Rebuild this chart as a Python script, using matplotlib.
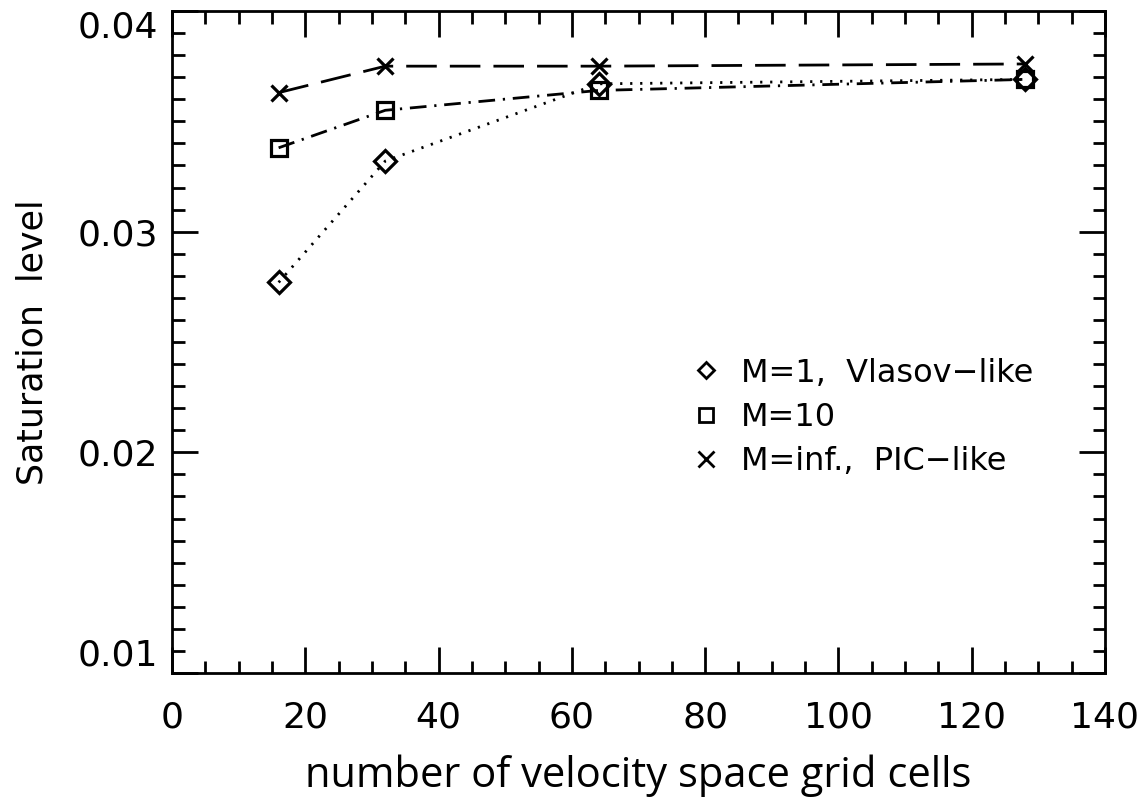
import matplotlib
matplotlib.use("Agg")
from matplotlib import pyplot as plt
from matplotlib.ticker import MultipleLocator

# Data
grid_cells = [16, 32, 64, 128]
sat_vlasov = [0.0277, 0.0332, 0.0367, 0.0369]
sat_m10 = [0.0338, 0.0355, 0.0364, 0.0369]
sat_pic = [0.0363, 0.0375, 0.0375, 0.0376]

y_ticks = [0.01, 0.02, 0.03, 0.04]
y_ticklabels = ["0.01", "0.02", "0.03", "0.04"]
labels = ["M=1,  Vlasov\u2212like", "M=10", "M=inf.,  PIC\u2212like"]

plt.rcParams['font.family'] = ['DejaVu Sans']

fig = plt.figure(figsize=(11.44, 8.02), dpi=100)
ax = fig.add_axes([172 / 1144, 129 / 802, 933 / 1144, 662 / 802])

lw = 2.0
ax.plot(grid_cells, sat_vlasov, color='black', lw=lw, linestyle=(0, (0.8, 2.8)),
        marker='D', markersize=11, markerfacecolor='none', markeredgewidth=2.3)
ax.plot(grid_cells, sat_m10, color='black', lw=lw, linestyle=(0, (6, 2.8, 0.8, 2.8)),
        marker='s', markersize=12, markerfacecolor='none', markeredgewidth=2.3)
ax.plot(grid_cells, sat_pic, color='black', lw=lw, linestyle=(0, (11, 4.7)),
        marker='x', markersize=12, markeredgewidth=2.3)

ax.xaxis.set_major_locator(MultipleLocator(20))
ax.xaxis.set_minor_locator(MultipleLocator(5))
ax.set_yticks(y_ticks, y_ticklabels)
ax.yaxis.set_minor_locator(MultipleLocator(0.001))
ax.set_xlim(0, 140)
ax.set_ylim(0.01, 0.04)

ax.tick_params(which='both', direction='in', top=True, right=True, width=2, color='black')
ax.tick_params(which='major', length=19, labelsize=26)
ax.tick_params(axis='x', which='major', pad=20)
ax.tick_params(axis='y', which='major', pad=10)
ax.tick_params(which='minor', length=9)
for sp in ax.spines.values():
    sp.set_linewidth(2)

# IDL-style: end labels kept inside the axis range
ylabs = ax.get_yticklabels()
ylabs[0].set_va('bottom')
ylabs[-1].set_va('top')

ax.set_ylabel("Saturation  level", fontsize=25, labelpad=20)
ax.set_xlabel("number of velocity space grid cells", fontsize=30, family='Open Sans', labelpad=14)

# legend: symbols only
handles = [
    plt.Line2D([], [], ls='none', marker='D', markersize=8, markerfacecolor='none', markeredgecolor='black', markeredgewidth=2),
    plt.Line2D([], [], ls='none', marker='s', markersize=10, markerfacecolor='none', markeredgecolor='black', markeredgewidth=2),
    plt.Line2D([], [], ls='none', marker='x', markersize=11, markeredgecolor='black', markeredgewidth=2),
]
ax.legend(handles, labels, loc='upper left', bbox_to_anchor=(0.528, 0.52), frameon=False,
          fontsize=23, handlelength=0.8, handletextpad=0.7, labelspacing=0.42)

fig.savefig("out.png", dpi=100)
